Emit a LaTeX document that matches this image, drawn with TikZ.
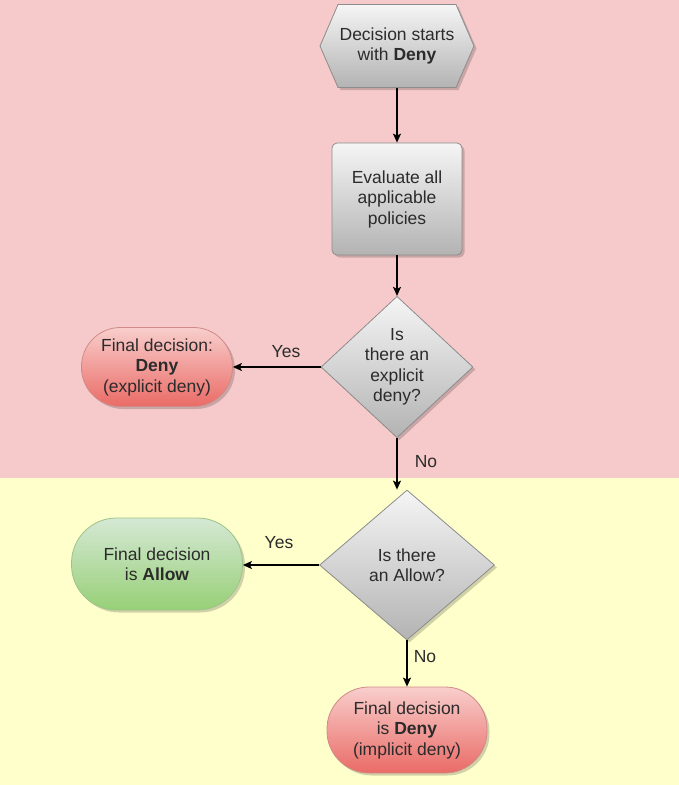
\documentclass[tikz,border=0pt]{standalone}
\usepackage{fontspec}
\setmainfont{Liberation Sans}
\usetikzlibrary{shapes.geometric,shadows,arrows.meta}
\definecolor{pinkbg}{HTML}{F6CACB}
\definecolor{yellowbg}{HTML}{FFFFCC}
\definecolor{graytop}{HTML}{F5F5F5}
\definecolor{graybot}{HTML}{B3B3B3}
\definecolor{grayline}{HTML}{8C8C8C}
\definecolor{redtop}{HTML}{F8CECC}
\definecolor{redbot}{HTML}{EA6B66}
\definecolor{redline}{HTML}{D08A88}
\definecolor{greentop}{HTML}{D5E8D4}
\definecolor{greenbot}{HTML}{97D077}
\definecolor{greenline}{HTML}{9CC48A}
\definecolor{txt}{HTML}{2B2B2B}
\tikzset{
	txtfont/.style={text=txt,font=\fontsize{17.5}{20.5}\selectfont},
	shade/.style={drop shadow={shadow xshift=2.5pt,shadow yshift=-2.5pt,fill=black,opacity=0.18}},
	box/.style={draw,line width=0.8pt,inner sep=0pt,align=center,txtfont,shade},
	grayshape/.style={box,draw=grayline,top color=graytop,bottom color=graybot},
	redend/.style={box,draw=redline,top color=redtop,bottom color=redbot,rounded corners=39pt},
	greenend/.style={box,draw=greenline,top color=greentop,bottom color=greenbot,rounded corners=45pt},
	flow/.style={line width=1.3pt,-{Stealth[length=9pt,width=8pt,inset=2pt]}},
	lbl/.style={txtfont}
}
\begin{document}
\begin{tikzpicture}[x=1pt,y=-1pt]
				\useasboundingbox (0,0) rectangle (679,785);
				\fill[pinkbg] (0,0) rectangle (679,478);
				\fill[yellowbg] (0,478) rectangle (679,785);
				\draw[line width=0.8pt,draw=grayline,top color=graytop,bottom color=graybot,shade] (320,46) -- (338,4.5) -- (456,4.5) -- (474,46) -- (456,87.5) -- (338,87.5) -- cycle;
				\node[align=center,txtfont,inner sep=0pt,minimum width=155pt,minimum height=83pt] (start) at (397,46) {Decision starts\\with \textbf{Deny}};
				\node[grayshape,rectangle,rounded corners=5pt,minimum width=130pt,minimum height=112pt] (eval) at (397,199) {Evaluate all\\applicable\\policies};
				\node[grayshape,diamond,minimum width=152pt,minimum height=140pt] (explicit) at (397,367) {Is\\there an\\explicit\\deny?};
				\node[redend,rectangle,minimum width=151pt,minimum height=79pt] (denyA) at (157,367) {Final decision:\\\textbf{Deny}\\(explicit deny)};
				\node[grayshape,diamond,minimum width=175pt,minimum height=150pt] (allowq) at (407,565) {Is there\\an Allow?};
				\node[greenend,rectangle,minimum width=171pt,minimum height=92pt] (allow) at (157,564) {Final decision\\is \textbf{Allow}};
				\node[redend,rectangle,rounded corners=42pt,minimum width=160pt,minimum height=86pt] (denyB) at (407,730) {Final decision\\is \textbf{Deny}\\(implicit deny)};
				\draw[flow] (start) -- (eval);
				\draw[flow] (eval) -- (explicit);
				\draw[flow] (explicit.west) -- (denyA.east);
				\draw[flow] (explicit.south) -- (explicit.south |- allowq.north);
				\draw[flow] (allowq.west) -- (allowq.west -| allow.east);
				\draw[flow] (allowq.south) -- (denyB.north);
				\node[lbl] (yesA) at (286,352) {Yes};
				\node[lbl] (noA) at (426,462) {No};
				\node[lbl] (yesB) at (279,543) {Yes};
				\node[lbl] (noB) at (425,657) {No};
			\end{tikzpicture}
\end{document}
